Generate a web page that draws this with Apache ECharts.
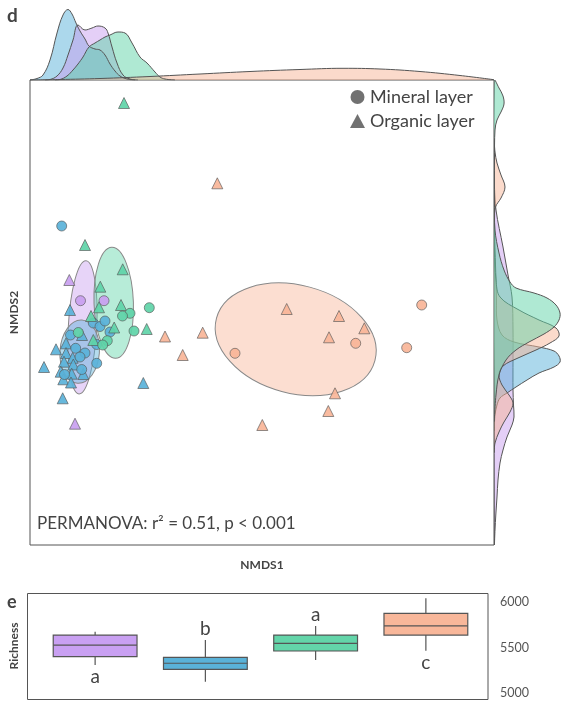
<!DOCTYPE html>
<html>
<head>
<meta charset="utf-8">
<script src="https://cdn.jsdelivr.net/npm/echarts@6/dist/echarts.min.js"></script>
<style>html,body{margin:0;padding:0;background:#fff}#c{width:561px;height:702px}</style>
</head>
<body>
<div id="c"></div>
<script>
// ---------- DATA ----------
// NMDS scores [NMDS1, NMDS2] per group and layer
const purpleMineral = [[-0.2475,0.0215],[-0.13,0.0215]];
const purpleOrganic = [[-0.3035,0.125],[-0.275,-0.5935]];
const blueMineral = [[-0.3415,0.395],[-0.1835,-0.09],[-0.15,-0.1075],[-0.125,-0.08],[-0.1,-0.135],[-0.2975,-0.15],[-0.1665,-0.1975],[-0.2715,-0.2165],[-0.225,-0.24],[-0.25,-0.26],[-0.1665,-0.2915],[-0.2415,-0.3225],[-0.3275,-0.3475]];
const blueOrganic = [[-0.3,-0.025],[-0.24,-0.15],[-0.32,-0.1915],[-0.37,-0.2215],[-0.32,-0.24],[-0.2865,-0.264],[-0.33,-0.2835],[-0.2835,-0.2975],[-0.43,-0.31],[-0.3465,-0.3335],[-0.2915,-0.3435],[-0.2335,-0.345],[-0.3335,-0.3715],[-0.295,-0.3875],[0.0665,-0.39],[-0.3365,-0.4665]];
const greenMineral = [[0.0965,-0.0135],[0,-0.0415],[-0.0375,-0.055],[0.02,-0.13],[-0.2585,-0.1375],[-0.1135,-0.1785],[-0.1365,-0.2]];
const greenOrganic = [[-0.03,1.01],[-0.225,0.3],[-0.0365,0.1785],[-0.1485,0.0915],[-0.155,-0.0115],[-0.045,0],[-0.195,-0.055],[-0.079,-0.1125],[0.0835,-0.12],[-0.1835,-0.175]];
const orangeMineral = [[0.525,-0.2415],[1.1285,-0.1915],[1.4585,0],[1.3835,-0.2135]];
const orangeOrganic = [[0.4365,0.6085],[0.175,-0.1575],[0.3635,-0.1385],[0.2635,-0.25],[0.7835,-0.02],[1.045,-0.055],[1.1715,-0.1165],[0.995,-0.1615],[1.025,-0.4415],[0.9915,-0.53],[0.6615,-0.6]];

// confidence ellipses [cx, cy, rx, ry, angleDeg]
const ellipsePurple = [-0.2375,-0.1115,0.071,0.3335,-3];
const ellipseGreen  = [-0.0815,0.011,0.0985,0.2775,2];
const ellipseBlue   = [-0.2515,-0.2335,0.0985,0.1585,-4];
const ellipseOrange = [0.8285,-0.1715,0.41,0.27,-15];

// marginal densities along NMDS1 (x positions, density)
const topBlueX = [-0.5,-0.465,-0.435,-0.4,-0.365,-0.335,-0.31,-0.29,-0.27,-0.25,-0.225,-0.205,-0.175,-0.15,-0.125,-0.1,-0.075,-0.05,-0.015,0.025];
const topBlueD = [0,0.15,0.5,2.0,4.7,6.5,7.05,6.6,5.7,4.9,4.1,3.4,3.1,3.0,2.5,1.6,0.9,0.4,0.1,0];
const topPurpleX = [-0.425,-0.4,-0.365,-0.335,-0.31,-0.285,-0.26,-0.225,-0.19,-0.16,-0.125,-0.11,-0.09,-0.065,-0.035,0,0.04];
const topPurpleD = [0,0.05,0.4,1.2,2.5,4.0,5.5,5.0,5.2,5.4,5.2,4.7,3.3,1.7,0.5,0.1,0];
const topGreenX = [-0.375,-0.35,-0.315,-0.285,-0.26,-0.235,-0.205,-0.175,-0.15,-0.125,-0.1,-0.06,-0.025,0.01,0.05,0.085,0.125,0.15,0.175,0.225];
const topGreenD = [0,0.05,0.4,1.0,1.6,2.3,3.3,3.7,4.0,4.3,4.5,4.8,4.7,3.7,2.3,1.7,0.8,0.3,0.1,0];
const topOrangeX = [-0.5,-0.35,-0.15,0.1,0.35,0.6,0.85,1.065,1.25,1.45,1.65,1.82];
const topOrangeD = [0,0.05,0.15,0.35,0.6,0.85,1.05,1.17,1.1,0.85,0.45,0.03];

// marginal densities along NMDS2 (y positions, density)
const rightGreenY = [1.125,1.085,1.045,1.005,0.965,0.925,0.875,0.725,0.525,0.375,0.26,0.175,0.115,0.085,0.06,0.035,0,-0.04,-0.075,-0.11,-0.145,-0.185,-0.225,-0.275,-0.35,-0.45,-0.575];
const rightGreenD = [0,0.5,0.9,1.0,0.7,0.3,0.1,0.05,0.05,0.1,0.5,1.0,1.6,2.2,4.0,5.3,6.2,6.6,6.5,6.0,5.0,3.5,2.2,1.2,0.5,0.2,0];
const rightOrangeY = [0.825,0.765,0.71,0.65,0.59,0.535,0.49,0.425,0.275,0.125,0.04,-0.025,-0.075,-0.115,-0.155,-0.19,-0.225,-0.265,-0.305,-0.35,-0.4,-0.45,-0.49,-0.535,-0.585,-0.635,-0.69,-0.735];
const rightOrangeD = [0,0.1,0.3,0.7,1.1,0.7,0.15,0.05,0.05,0.2,0.6,2.5,4.5,6.2,6.5,5.6,4.2,2.4,0.9,0.5,0.8,1.5,1.9,1.6,1.0,0.5,0.1,0];
const rightBlueY = [0.425,0.275,0.125,0.025,-0.075,-0.15,-0.185,-0.21,-0.23,-0.255,-0.285,-0.31,-0.34,-0.375,-0.41,-0.44,-0.465,-0.5,-0.55,-0.625];
const rightBlueD = [0,0.1,0.2,0.25,0.3,0.8,2.0,4.5,6.0,6.5,6.6,6.0,4.5,3.3,2.2,1.3,0.6,0.3,0.1,0];
const rightPurpleY = [0.625,0.475,0.29,0.15,0.04,-0.125,-0.275,-0.425,-0.5,-0.56,-0.6,-0.66,-0.725,-0.79,-0.875,-0.96,-1.05,-1.125,-1.2];
const rightPurpleD = [0,0.2,0.9,1.4,1.8,1.9,1.9,1.9,1.95,2.0,1.8,1.3,0.9,0.6,0.4,0.3,0.18,0.1,0.03];

// richness boxplots
const boxGroups = ['G1','G2','G3','G4'];
const boxStats = [ // [min, Q1, median, Q3, max]
  [5310,5400,5527,5636,5673],
  [5127,5262,5328,5393,5582],
  [5364,5462,5545,5636,5735],
  [5465,5636,5735,5873,6037]
];
const letters = ['a','b','a','c'];
const letterY = [5178,5704,5857,5331];
const richnessTicks = [5000,5500,6000];

// ---------- STYLE ----------
const FONT = 'Lato, "Open Sans", sans-serif';
const COL = {purple:'#c9a0f0', blue:'#5ab2d9', green:'#5fd4a8', orange:'#f8b598'};
const FILL = {purple:'rgba(201,160,240,0.5)', blue:'rgba(90,178,217,0.5)', green:'rgba(95,212,168,0.5)', orange:'rgba(248,181,152,0.5)'};
const BOXCOL = ['#c9a0f2','#5ab2d8','#63d5a9','#f8b79a'];
const zip = (a,b) => a.map((v,i)=>[v,b[i]]);

function scatter(name, data, color, symbol){
  return {type:'scatter', name:name, xAxisIndex:0, yAxisIndex:0, data:data, symbol:symbol,
    symbolSize: symbol==='circle'?10:11, z:5,
    itemStyle:{color:color, borderColor:'#555', borderWidth:0.7, opacity:0.92}};
}
function topDens(x, d, key){
  return {type:'line', xAxisIndex:1, yAxisIndex:1, data:zip(x,d), smooth:0.4, symbol:'none',
    lineStyle:{color:'#555', width:1}, areaStyle:{color:FILL[key], opacity:1}, z:2};
}
const rightSets = [[rightPurpleY,rightPurpleD,'purple'],[rightBlueY,rightBlueD,'blue'],[rightOrangeY,rightOrangeD,'orange'],[rightGreenY,rightGreenD,'green']];
const ellSets = [[ellipsePurple,'purple'],[ellipseGreen,'green'],[ellipseBlue,'blue'],[ellipseOrange,'orange']];

const chart = echarts.init(document.getElementById('c'), null, {renderer:'canvas'});
const hidden = {axisLine:{show:false}, axisTick:{show:false}, axisLabel:{show:false}, splitLine:{show:false}};
chart.setOption({
  animation:false,
  textStyle:{fontFamily:FONT},
  grid:[
    {left:30, top:80, width:464, height:465, show:true, borderColor:'#555', borderWidth:1, backgroundColor:'transparent'},
    {left:30, top:0, width:464, height:80},
    {left:494, top:80, width:67, height:465},
    {left:40, top:601.7, width:441, height:91.6}
  ],
  xAxis:[
    Object.assign({type:'value', gridIndex:0, min:-0.5, max:1.82, name:'NMDS1', nameLocation:'middle', nameGap:14,
      nameTextStyle:{fontFamily:FONT, fontWeight:'bold', fontSize:12, color:'#444'}}, hidden),
    Object.assign({type:'value', gridIndex:1, min:-0.5, max:1.82, show:false}, hidden),
    Object.assign({type:'value', gridIndex:2, min:0, max:6.7, show:false}, hidden),
    Object.assign({type:'category', gridIndex:3, data:boxGroups, show:false}, hidden)
  ],
  yAxis:[
    Object.assign({type:'value', gridIndex:0, min:-1.2, max:1.125, name:'NMDS2', nameLocation:'middle', nameGap:10,
      nameTextStyle:{fontFamily:FONT, fontWeight:'bold', fontSize:12, color:'#444'}}, hidden),
    Object.assign({type:'value', gridIndex:1, min:0, max:8, show:false}, hidden),
    Object.assign({type:'value', gridIndex:2, min:-1.2, max:1.125, show:false}, hidden),
    {type:'value', gridIndex:3, position:'right', min:richnessTicks[0], max:richnessTicks[2], interval:500,
      axisLine:{show:false}, axisTick:{show:false}, splitLine:{show:false},
      axisLabel:{margin:19, color:'#555', fontSize:12.5, fontFamily:FONT, formatter:function(v){return String(v);}}}
  ],
  legend:{orient:'vertical', left:350, top:88, itemWidth:15, itemHeight:14, itemGap:6, padding:0,
    textStyle:{fontSize:18, color:'#444', fontFamily:FONT},
    data:[{name:'Mineral layer', icon:'circle'},{name:'Organic layer', icon:'triangle'}]},
  graphic:[
    {type:'text', left:7, top:6, style:{text:'d', font:'bold 19px '+FONT, fill:'#444'}},
    {type:'text', left:7, top:593, style:{text:'e', font:'bold 18px '+FONT, fill:'#444'}},
    {type:'text', x:14, y:646, rotation:Math.PI/2, style:{text:'Richness', font:'bold 12px '+FONT, fill:'#444', align:'center', verticalAlign:'middle'}},
    {type:'text', x:37, y:524, style:{text:'PERMANOVA: r² = 0.51, p < 0.001', font:'17px '+FONT, fill:'#444', verticalAlign:'middle'}},
    {type:'rect', shape:{x:27.5, y:593.5, width:460.5, height:106}, style:{fill:'none', stroke:'#555', lineWidth:1}}
  ],
  series:[
    // ellipses
    {type:'custom', xAxisIndex:0, yAxisIndex:0, z:1, clip:true, data:ellSets.map((e,i)=>[i]),
      renderItem:function(params, api){
        const e = ellSets[params.dataIndex][0], key = ellSets[params.dataIndex][1];
        const c = api.coord([e[0], e[1]]);
        const s = api.size([e[2], e[3]]);
        return {type:'ellipse', x:c[0], y:c[1], rotation:e[4]*Math.PI/180,
          shape:{cx:0, cy:0, rx:s[0], ry:s[1]},
          style:{fill:FILL[key].replace('0.5)','0.45)'), stroke:'#888', lineWidth:1}};
      }},
    // top densities
    topDens(topBlueX, topBlueD, 'blue'),
    topDens(topPurpleX, topPurpleD, 'purple'),
    topDens(topGreenX, topGreenD, 'green'),
    topDens(topOrangeX, topOrangeD, 'orange'),
    // right densities
    {type:'custom', xAxisIndex:2, yAxisIndex:2, z:2, clip:true, data:rightSets.map((e,i)=>[i]),
      renderItem:function(params, api){
        const r = rightSets[params.dataIndex];
        const pts = r[0].map((y,i)=>api.coord([r[1][i], y]));
        return {type:'polygon', shape:{points:pts, smooth:0.35},
          style:{fill:FILL[r[2]], stroke:'#555', lineWidth:1}};
      }},
    // scatter
    scatter('', purpleMineral, COL.purple, 'circle'),
    scatter('', purpleOrganic, COL.purple, 'triangle'),
    scatter('', orangeMineral, COL.orange, 'circle'),
    scatter('', orangeOrganic, COL.orange, 'triangle'),
    scatter('', blueOrganic, COL.blue, 'triangle'),
    scatter('', blueMineral, COL.blue, 'circle'),
    scatter('', greenOrganic, COL.green, 'triangle'),
    scatter('', greenMineral, COL.green, 'circle'),
    // legend proxies
    {type:'scatter', name:'Mineral layer', data:[], symbol:'circle', itemStyle:{color:'#4d4d4d'}},
    {type:'scatter', name:'Organic layer', data:[], symbol:'triangle', itemStyle:{color:'#4d4d4d'}},
    // boxplots
    {type:'custom', xAxisIndex:3, yAxisIndex:3, z:3, clip:false,
      data:boxStats.map((s,i)=>[i, s[0], s[1], s[2], s[3], s[4], letterY[i]]),
      encode:{x:0, y:[1,2,3,4,5]},
      renderItem:function(params, api){
        const i = api.value(0);
        const bw = api.size([1,0])[0]*0.76;
        const pMin = api.coord([i, api.value(1)]);
        const pQ1 = api.coord([i, api.value(2)]);
        const pMed = api.coord([i, api.value(3)]);
        const pQ3 = api.coord([i, api.value(4)]);
        const pMax = api.coord([i, api.value(5)]);
        const pL = api.coord([i, api.value(6)]);
        const x0 = pMed[0]-bw/2, x1 = pMed[0]+bw/2;
        const ls = {stroke:'#555', lineWidth:1.2};
        return {type:'group', children:[
          {type:'line', shape:{x1:pMax[0], y1:pMax[1], x2:pQ3[0], y2:pQ3[1]}, style:ls},
          {type:'line', shape:{x1:pQ1[0], y1:pQ1[1], x2:pMin[0], y2:pMin[1]}, style:ls},
          {type:'rect', shape:{x:x0, y:pQ3[1], width:bw, height:pQ1[1]-pQ3[1]}, style:{fill:BOXCOL[params.dataIndex], stroke:'#555', lineWidth:1.2}},
          {type:'line', shape:{x1:x0, y1:pMed[1], x2:x1, y2:pMed[1]}, style:ls},
          {type:'text', style:{text:letters[params.dataIndex], x:pL[0], y:pL[1], align:'center', verticalAlign:'middle', font:'19px '+FONT, fill:'#444'}}
        ]};
      }}
  ]
});
</script>
</body>
</html>
